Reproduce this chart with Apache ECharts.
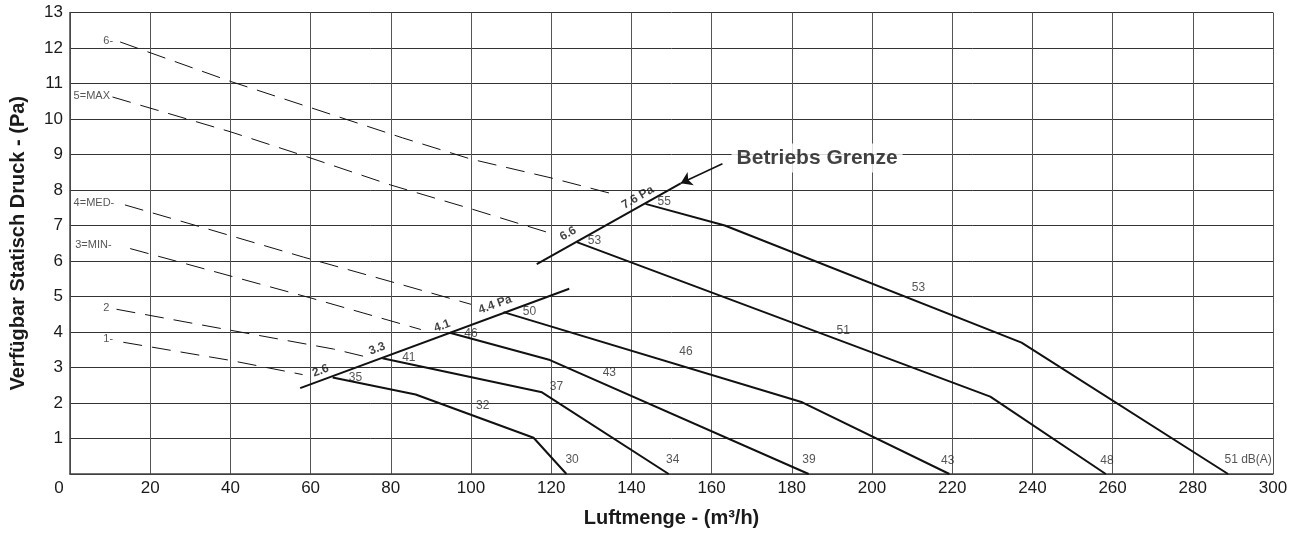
<!DOCTYPE html>
<html><head><meta charset="utf-8">
<script src="https://cdn.jsdelivr.net/npm/echarts@6/dist/echarts.min.js"></script>
<style>html,body{margin:0;padding:0;background:#fff}#c{width:1299px;height:533px}</style>
</head><body><div id="c"></div>
<script>
// ---- axis ticks ----
const xTicks = [0,20,40,60,80,100,120,140,160,180,200,220,240,260,280,300];
const yTicks = [0,1,2,3,4,5,6,7,8,9,10,11,12,13];

// ---- fan speed curves (dashed) [m3/h, Pa] ----
const fan6   = [[12.5,12.17],[40,11.06],[60,10.32],[82.9,9.47],[100,8.87],[120,8.34],[136,7.87]];
const fan5   = [[10.6,10.62],[40,9.64],[58.2,8.97],[80,8.14],[100,7.47],[119,6.81]];
const fan4   = [[13.7,7.58],[33.2,6.94],[58.2,6.11],[80,5.42],[100,4.78]];
const fan3   = [[15,6.35],[27,5.98],[60,4.96],[87.5,4.07]];
const fan2   = [[11.6,4.64],[40,4.05],[65.7,3.52],[73.8,3.30]];
const fan1   = [[13.3,3.71],[40,3.20],[58,2.80]];

// ---- operating limits (Betriebs Grenze) ----
const limitLow  = [[57.4,2.42],[124.5,5.22]];
const limitHigh = [[116.4,5.91],[152.3,8.19]];

// ---- sound curves (solid) ----
const curveA = [[65.5,2.72],[86.2,2.24],[115.6,1.02],[123.8,0]];
const curveB = [[77.9,3.26],[117.7,2.30],[149.3,0]];
const curveC = [[94.7,3.98],[119.7,3.21],[184.2,0]];
const curveD = [[108.1,4.56],[182.6,2.02],[219.3,0]];
const curveE = [[126.4,6.53],[229.5,2.18],[258.3,0]];
const curveF = [[143.5,7.61],[163.3,7.0],[237.3,3.70],[288.8,0]];

// ---- dB(A) labels ----
const dbLabels = [
  [71.2,2.72,'35'],[102.9,1.93,'32'],[125.2,0.40,'30'],
  [84.5,3.28,'41'],[121.3,2.46,'37'],[150.3,0.40,'34'],
  [100.0,3.96,'46'],[134.5,2.84,'43'],[184.3,0.40,'39'],
  [114.6,4.56,'50'],[153.6,3.45,'46'],[218.9,0.38,'43'],
  [130.8,6.56,'53'],[192.8,4.03,'51'],[258.6,0.38,'48'],
  [148.2,7.67,'55'],[211.6,5.25,'53'],[293.8,0.40,'51 dB(A)']
];

// ---- fan speed names ----
const speedLabels = [
  [8.3,12.21,'6-'],[0.9,10.66,'5=MAX'],[0.9,7.63,'4=MED-'],
  [1.3,6.44,'3=MIN-'],[8.3,4.68,'2'],[8.3,3.80,'1-']
];

// ---- pressure labels on the limit lines ----
const pressLow  = [[62.5,2.91,'2.6'],[76.6,3.53,'3.3'],[92.8,4.17,'4.1'],[106.0,4.77,'4.4 Pa']];
const pressHigh = [[124.2,6.77,'6.6'],[141.6,7.79,'7.6 Pa']];

// ---- annotation ----
const limitText = [[186.3,8.9,'Betriebs Grenze']];
const arrowLine = [[162.7,8.74],[152.3,8.19]];

const FONT = "'Liberation Sans', Arial, sans-serif";
const chart = echarts.init(document.getElementById('c'), null, {renderer:'canvas'});

function lineSeries(data, width, dash){
  return {type:'line', data, showSymbol:false, symbol:'none', silent:true, animation:false,
    lineStyle:{color:'#111', width, type: dash ? [19,10] : 'solid'}, z:3};
}
function labelSeries(items, opts, rotate){
  return {type:'scatter', symbolSize:0, silent:true, animation:false, z:5,
    data: items.map(d => ({value:[d[0],d[1]], name:d[2]})),
    label:Object.assign({show:true, formatter: p => p.name, fontFamily:FONT, rotate: rotate||0}, opts)};
}

const option = {
  backgroundColor:'#fff',
  animation:false,
  grid:{left:66.5, right:26, top:12.5, bottom:55.5, containLabel:false},
  xAxis:{type:'value', min:xTicks[0], max:xTicks[xTicks.length-1], interval:20,
    name:'Luftmenge - (m³/h)', nameLocation:'middle', nameGap:34,
    nameTextStyle:{fontFamily:FONT, fontSize:20, fontWeight:'bold', color:'#1a1a1a'},
    axisLine:{show:true, lineStyle:{color:'#444', width:1.5}},
    axisTick:{show:false},
    axisLabel:{fontFamily:FONT, fontSize:17, color:'#1a1a1a', margin:6,
      formatter: v => v === 0 ? '{z|0}' : String(v),
      rich:{z:{fontFamily:FONT, fontSize:17, color:'#1a1a1a', padding:[0,22,0,0]}}},
    splitLine:{show:true, lineStyle:{color:'#555', width:1}}},
  yAxis:{type:'value', min:yTicks[0], max:yTicks[yTicks.length-1], interval:1,
    name:'Verfügbar Statisch Druck - (Pa)', nameLocation:'middle', nameGap:42, nameRotate:90,
    nameTextStyle:{fontFamily:FONT, fontSize:20, fontWeight:'bold', color:'#1a1a1a'},
    axisLine:{show:true, lineStyle:{color:'#444', width:1.5}},
    axisTick:{show:false},
    axisLabel:{fontFamily:FONT, fontSize:17, color:'#1a1a1a', margin:7,
      formatter: v => v === 0 ? '' : String(v)},
    splitLine:{show:true, lineStyle:{color:'#333', width:1}}},
  series:[
    lineSeries(fan6,1,true), lineSeries(fan5,1,true), lineSeries(fan4,1,true),
    lineSeries(fan3,1,true), lineSeries(fan2,1,true), lineSeries(fan1,1,true),
    lineSeries(limitLow,2), lineSeries(limitHigh,2),
    lineSeries(curveA,2), lineSeries(curveB,2), lineSeries(curveC,2),
    lineSeries(curveD,2), lineSeries(curveE,2), lineSeries(curveF,2),
    labelSeries(dbLabels, {position:'inside', fontSize:12, color:'#2a2a2a'}),
    labelSeries(speedLabels, {position:'right', distance:0, fontSize:11, color:'#2a2a2a'}),
    labelSeries(pressLow, {position:'inside', fontSize:12, fontWeight:'bold', color:'#111'}, 20),
    labelSeries(pressHigh, {position:'inside', fontSize:12, fontWeight:'bold', color:'#111'}, 30),
    labelSeries(limitText, {position:'inside', fontSize:21, fontWeight:'bold', color:'#111',
      backgroundColor:'#fff', padding:[4,5]}),
    {type:'lines', coordinateSystem:'cartesian2d', silent:true, animation:false, z:4,
      symbol:['none','arrow'], symbolSize:[0,11],
      lineStyle:{color:'#111', width:1.5, opacity:1, curveness:0},
      data:[{coords:arrowLine}]}
  ]
};
chart.setOption(option);
</script>
</body></html>
